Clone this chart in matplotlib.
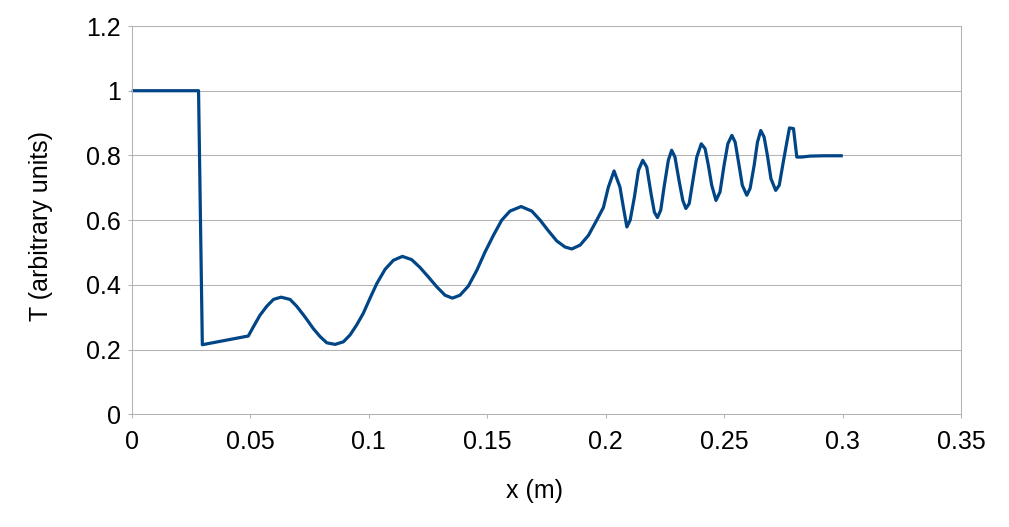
import matplotlib
matplotlib.use("Agg")
import matplotlib.pyplot as plt

# Data
x_m = [0, 0.0282, 0.0298, 0.0492, 0.0513, 0.0541, 0.0570, 0.0598, 0.0630, 0.0668,
       0.0696, 0.0731, 0.0766, 0.0795, 0.0823, 0.0858, 0.0893, 0.0921, 0.0949, 0.0977,
       0.1005, 0.1034, 0.1069, 0.1104, 0.1142, 0.1181, 0.1216, 0.1251, 0.1287, 0.1322,
       0.1353, 0.1385, 0.1420, 0.1456, 0.1491, 0.1526, 0.1561, 0.1596, 0.1643, 0.1688,
       0.1723, 0.1758, 0.1793, 0.1828, 0.1857, 0.1892, 0.1927, 0.1962, 0.1990, 0.2011,
       0.2035, 0.2060, 0.2074, 0.2089, 0.2103, 0.2121, 0.2138, 0.2156, 0.2173, 0.2191,
       0.2205, 0.2218, 0.2232, 0.2246, 0.2264, 0.2278, 0.2292, 0.2309, 0.2325, 0.2338,
       0.2352, 0.2370, 0.2384, 0.2403, 0.2419, 0.2433, 0.2447, 0.2465, 0.2482, 0.2499,
       0.2515, 0.2532, 0.2546, 0.2560, 0.2576, 0.2595, 0.2609, 0.2626, 0.2640, 0.2654,
       0.2668, 0.2682, 0.2697, 0.2717, 0.2732, 0.2749, 0.2764, 0.2775, 0.2792, 0.2806,
       0.2827, 0.2862, 0.2920, 0.3000]
T_values = [1.0, 1.0, 0.215, 0.242, 0.270, 0.306, 0.334, 0.355, 0.362, 0.355,
            0.334, 0.301, 0.265, 0.240, 0.221, 0.216, 0.224, 0.245, 0.276, 0.312,
            0.358, 0.404, 0.448, 0.476, 0.488, 0.478, 0.454, 0.425, 0.394, 0.368,
            0.359, 0.368, 0.396, 0.445, 0.502, 0.553, 0.600, 0.628, 0.642, 0.628,
            0.600, 0.567, 0.536, 0.517, 0.511, 0.523, 0.553, 0.600, 0.639, 0.702,
            0.752, 0.702, 0.641, 0.579, 0.600, 0.672, 0.754, 0.785, 0.764, 0.682,
            0.625, 0.608, 0.631, 0.702, 0.785, 0.816, 0.795, 0.723, 0.661, 0.636,
            0.651, 0.733, 0.795, 0.836, 0.821, 0.769, 0.708, 0.661, 0.687, 0.769,
            0.836, 0.862, 0.841, 0.780, 0.708, 0.677, 0.698, 0.769, 0.841, 0.877,
            0.857, 0.800, 0.728, 0.692, 0.708, 0.780, 0.841, 0.885, 0.883, 0.795,
            0.795, 0.798, 0.799, 0.799]

x_ticks = [0, 0.05, 0.1, 0.15, 0.2, 0.25, 0.3, 0.35]
x_tick_labels = ["0", "0.05", "0.1", "0.15", "0.2", "0.25", "0.3", "0.35"]
y_ticks = [0, 0.2, 0.4, 0.6, 0.8, 1.0, 1.2]
y_tick_labels = ["0", "0.2", "0.4", "0.6", "0.8", "1", "1.2"]

plt.rcParams['font.family'] = ['Liberation Sans', 'DejaVu Sans']

W, H = 1009, 527
fig = plt.figure(figsize=(W / 100, H / 100), dpi=100)
L, R, Tp, B = 131.7, 961.3, 26.0, 414.3
ax = fig.add_axes([L / W, 1 - B / H, (R - L) / W, (B - Tp) / H])

grid_c = "#b3b3b3"
ax.set_xlim(0, 0.35)
ax.set_ylim(0, 1.2)
ax.set_xticks(x_ticks)
ax.set_xticklabels(x_tick_labels)
ax.set_yticks(y_ticks)
ax.set_yticklabels(y_tick_labels)
ax.grid(axis='y', color=grid_c, linewidth=0.75)
ax.set_axisbelow(True)
for s in ax.spines.values():
    s.set_color(grid_c)
    s.set_linewidth(0.75)
ax.tick_params(axis='both', direction='out', length=3, width=0.75, color=grid_c,
               labelsize=18, labelcolor='black')
ax.tick_params(axis='x', pad=8)
ax.tick_params(axis='y', pad=5)

ax.plot(x_m, T_values, color="#004586", linewidth=2.3, solid_joinstyle='round',
        solid_capstyle='butt', clip_on=False)

fig.text(535 / W, 1 - 491.3 / H, "x (m)", ha='center', va='center', fontsize=18)
fig.text(41.3 / W, 1 - 225.8 / H, "T (arbitrary units)", ha='center', va='center',
         rotation=90, fontsize=18)

fig.savefig("out.png", dpi=100, facecolor='white')
